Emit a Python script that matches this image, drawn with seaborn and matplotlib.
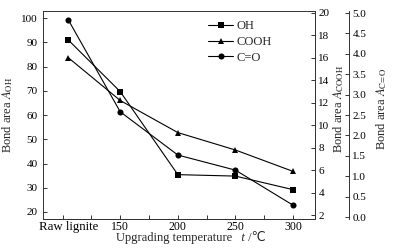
import numpy as np
import pandas as pd
import seaborn as sns
import matplotlib
matplotlib.use('Agg')
import matplotlib.pyplot as plt
from matplotlib.ticker import MultipleLocator, FormatStrFormatter

# data
temp_labels = ['Raw lignite', '150', '200', '250', '300']
temp_pos = [105, 150, 200, 250, 300]
oh_area = [91.0, 69.7, 35.4, 34.8, 29.2]
cooh_area = [16.0, 12.2, 9.35, 7.8, 5.9]
co_area = [4.83, 2.58, 1.52, 1.15, 0.29]

sns.set_style('ticks')
plt.rcParams['font.family'] = ['Liberation Serif', 'DejaVu Sans']
plt.rcParams['mathtext.fontset'] = 'stix'
plt.rcParams['font.size'] = 8
plt.rcParams['axes.linewidth'] = 0.7
plt.rcParams['axes.edgecolor'] = '#333333'
for k in ['xtick', 'ytick']:
    plt.rcParams[f'{k}.direction'] = 'in'
    plt.rcParams[f'{k}.major.size'] = 3
    plt.rcParams[f'{k}.major.width'] = 0.7
    plt.rcParams[f'{k}.minor.width'] = 0.7
    plt.rcParams[f'{k}.color'] = '#333333'
    plt.rcParams[f'{k}.labelcolor'] = 'black'

df = pd.DataFrame({'t': temp_pos, 'OH': oh_area, 'COOH': cooh_area, 'C=O': co_area})

fig = plt.figure(figsize=(3.98, 2.52), dpi=100)
ax = fig.add_axes([43 / 398, 1 - 218.7 / 252, 272 / 398, 207.7 / 252])
ax2 = ax.twinx()
ax3 = ax.twinx()
ax3.spines['right'].set_position(('axes', 1.125))

style = dict(color='black', linewidth=0.8, markersize=4.4, markeredgewidth=0)
sns.lineplot(data=df, x='t', y='OH', marker='s', ax=ax, label='OH', legend=False, **style)
sns.lineplot(data=df, x='t', y='COOH', marker='^', ax=ax2, label='COOH', legend=False, **style)
sns.lineplot(data=df, x='t', y='C=O', marker='o', ax=ax3, label='C=O', legend=False, **style)

ax.set_xlim(83, 319)
ax.set_ylim(17.2, 103)
ax.set_yticks(np.arange(20, 101, 10))
ax2.set_ylim(1.7, 20.15)
ax2.set_yticks(np.arange(2, 21, 2))
ax3.set_ylim(-0.04, 5.05)
ax3.set_yticks(np.arange(0, 5.01, 0.5))
ax3.yaxis.set_major_formatter(FormatStrFormatter('%.1f'))

ax.set_xticks(temp_pos)
ax.set_xticklabels(temp_labels)
ax.xaxis.set_minor_locator(MultipleLocator(25))
ax.tick_params(axis='x', which='minor', length=3)
ax.xaxis.get_major_ticks()[0].tick1line.set_visible(False)
ax.get_xticklabels()[0].set_fontsize(9.3)
ax.tick_params(axis='x', pad=1.5, labelsize=8.5)
ax.tick_params(axis='y', pad=4, labelsize=8)
ax2.tick_params(axis='y', pad=2.5, labelsize=8)
ax3.tick_params(axis='y', pad=2.5, labelsize=8)
ax.get_xticklabels()[0].set_fontsize(9.3)

for a in (ax2, ax3):
    a.spines['top'].set_visible(False)
    a.spines['left'].set_visible(False)

# x label: plain part, italic t, then the unit
ax.set_xlabel('Upgrading temperature', fontsize=9)
ax.xaxis.set_label_coords(0.483, -0.064)
t_txt = ax.annotate('   t', xy=(1, 0), xycoords=ax.xaxis.label, va='bottom', ha='left',
                    fontsize=9, fontstyle='italic')
ax.annotate(' /℃', xy=(1, 0), xycoords=t_txt, va='bottom', ha='left', fontsize=9)

ax.set_ylabel(r'Bond area $\mathit{A}_{\rm OH}$', fontsize=9)
ax.yaxis.set_label_coords(-0.103, 0.5)
ax2.set_ylabel(r'Bond area $\mathit{A}_{\rm COOH}$', fontsize=9)
ax2.yaxis.set_label_coords(1.088, 0.53)
ax3.set_ylabel(r'Bond area $\mathit{A}_{\rm C\!=\!O}$', fontsize=9)
ax3.yaxis.set_label_coords(1.246, 0.53)
for a in (ax2, ax3):
    a.yaxis.label.set_va('center')

handles = []
labels = []
for a in (ax, ax2, ax3):
    h, l = a.get_legend_handles_labels()
    handles += h
    labels += l
ax.legend(handles, labels, loc='upper left', bbox_to_anchor=(0.607, 0.955), frameon=False,
          fontsize=9, handlelength=2.0, handletextpad=0.3, labelspacing=0.3,
          borderaxespad=0, borderpad=0)

fig.savefig('out.png', dpi=100)
